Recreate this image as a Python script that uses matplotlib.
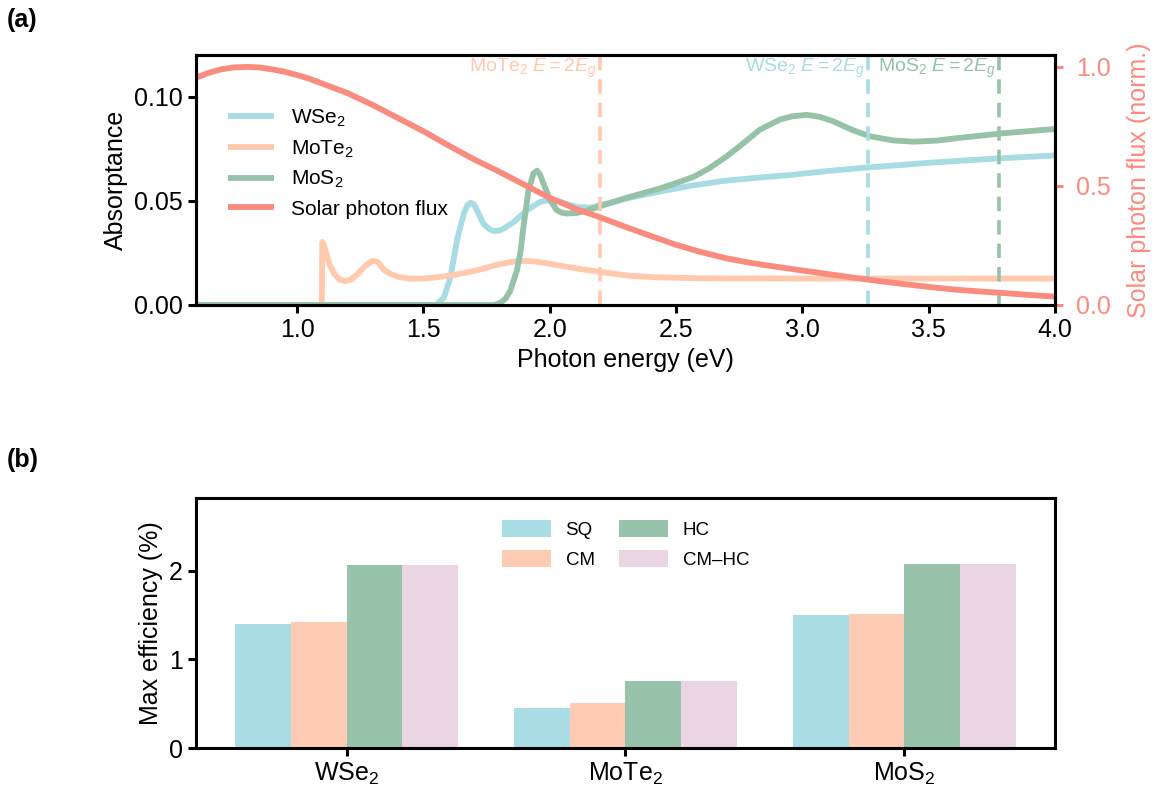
#!/usr/bin/env python3

import numpy as np
import matplotlib.pyplot as plt

plt.rcParams['font.family'] = ['Liberation Sans', 'DejaVu Sans']
plt.rcParams['mathtext.fontset'] = 'custom'
plt.rcParams['mathtext.rm'] = 'Liberation Sans'
plt.rcParams['mathtext.it'] = 'Liberation Sans:italic'

#------------------------------------------------------------------------
# (a) absorptance spectra

e_wse2 = [0.6, 1.55, 1.581, 1.607, 1.633, 1.66, 1.675, 1.688, 1.70, 1.712, 1.738, 1.76,
          1.778, 1.80, 1.817, 1.857, 1.91, 1.962, 2.002, 2.03, 2.055, 2.108, 2.16, 2.24,
          2.30, 2.437, 2.556, 2.69, 2.832, 2.95, 3.10, 3.254, 3.40, 3.505, 3.62, 3.78, 4.00]
a_wse2 = [0.0, 0.0, 0.0035, 0.0132, 0.031, 0.0439, 0.048, 0.049, 0.0483, 0.0455, 0.039, 0.0365,
          0.0355, 0.0357, 0.0366, 0.0398, 0.0455, 0.0495, 0.0505, 0.0502, 0.049, 0.047, 0.0468, 0.0490,
          0.0510, 0.0545, 0.0572, 0.0596, 0.0612, 0.0624, 0.0643, 0.0660, 0.0673, 0.0683, 0.0692, 0.0704, 0.0718]

e_mote2 = [0.6, 1.098, 1.100, 1.105, 1.115, 1.13, 1.15, 1.17, 1.19, 1.21, 1.24, 1.27,
           1.30, 1.32, 1.345, 1.37, 1.40, 1.45, 1.50, 1.528, 1.60, 1.66, 1.73, 1.79,
           1.85, 1.897, 1.94, 1.99, 2.05, 2.12, 2.24, 2.32, 2.42, 2.60, 3.00, 4.00]
a_mote2 = [0.0, 0.0, 0.0302, 0.029, 0.025, 0.019, 0.0145, 0.0122, 0.0115, 0.0120, 0.0148, 0.0188,
           0.0213, 0.0205, 0.0168, 0.0149, 0.0135, 0.0126, 0.0127, 0.0130, 0.0140, 0.0153, 0.0172, 0.0193,
           0.0207, 0.0212, 0.0209, 0.0200, 0.0187, 0.0173, 0.0152, 0.0140, 0.0133, 0.0128, 0.0127, 0.0127]

e_mos2 = [0.6, 1.78, 1.804, 1.825, 1.844, 1.87, 1.885, 1.896, 1.916, 1.936, 1.95, 1.962,
          1.975, 2.002, 2.028, 2.048, 2.068, 2.108, 2.16, 2.226, 2.30, 2.437, 2.50, 2.569,
          2.63, 2.70, 2.77, 2.832, 2.911, 2.96, 3.017, 3.07, 3.122, 3.20, 3.267, 3.36,
          3.438, 3.53, 3.62, 3.70, 3.78, 3.90, 4.00]
a_mos2 = [0.0, 0.0, 0.001, 0.003, 0.0068, 0.0165, 0.026, 0.0374, 0.055, 0.0632, 0.0645, 0.0625,
          0.0584, 0.0503, 0.0455, 0.0443, 0.0439, 0.0442, 0.0458, 0.0485, 0.0513, 0.0560, 0.0585, 0.0615,
          0.0655, 0.0713, 0.0780, 0.0842, 0.0890, 0.0906, 0.0913, 0.0903, 0.0882, 0.0839, 0.081, 0.079,
          0.0784, 0.0789, 0.0802, 0.0812, 0.0823, 0.0835, 0.0845]

e_solar = [0.6, 0.65, 0.7, 0.75, 0.8, 0.85, 0.9, 0.95, 1.0, 1.05, 1.1, 1.15, 1.2, 1.3,
           1.4, 1.5, 1.6, 1.7, 1.8, 1.9, 2.0, 2.1, 2.2, 2.3, 2.4, 2.5, 2.6, 2.7,
           2.8, 2.9, 3.0, 3.1, 3.2, 3.3, 3.4, 3.5, 3.6, 3.7, 3.8, 3.9, 4.0]
flux_solar = [0.955, 0.975, 0.99, 0.998, 1.0, 0.998, 0.99, 0.98, 0.966, 0.95, 0.93, 0.91, 0.89, 0.84,
              0.785, 0.73, 0.67, 0.612, 0.56, 0.505, 0.45, 0.405, 0.368, 0.328, 0.29, 0.253, 0.222, 0.196,
              0.176, 0.16, 0.145, 0.13, 0.115, 0.101, 0.088, 0.076, 0.065, 0.057, 0.05, 0.042, 0.035]

# 2*Eg thresholds
materials = ['WSe$_2$', 'MoTe$_2$', 'MoS$_2$']
two_eg = [3.26, 2.20, 3.78]

#------------------------------------------------------------------------
# (b) max efficiencies

bar_labels = ['SQ', 'CM', 'HC', 'CM–HC']
eff_sq = [1.40, 0.45, 1.50]
eff_cm = [1.42, 0.51, 1.51]
eff_hc = [2.06, 0.76, 2.08]
eff_cmhc = [2.06, 0.76, 2.08]

c_wse2 = '#A8DCE4'
c_mote2 = '#FFC9AE'
c_mos2 = '#96C2A8'
c_solar = '#FA8C7F'
bar_colors = ['#ABDDE6', '#FECBB4', '#98C2AA', '#EAD5E2']

#------------------------------------------------------------------------

def style_axes(ax):
    for sp in ax.spines.values():
        sp.set_linewidth(2.2)
    ax.tick_params(width=2.2, length=6, labelsize=18)


def main():
    fig = plt.figure(figsize=(11.72, 7.93), dpi=100)
    ax1 = fig.add_axes([0.1672, 0.6154, 0.7330, 0.3152])
    ax3 = fig.add_axes([0.1672, 0.0567, 0.7330, 0.3153])

    lw = 4.2
    kw = dict(lw=lw, solid_joinstyle='round', solid_capstyle='butt')
    ax1.plot(e_wse2, a_wse2, color=c_wse2, label='WSe$_2$', **kw)
    ax1.plot(e_mote2, a_mote2, color=c_mote2, label='MoTe$_2$', **kw)
    ax1.plot(e_mos2, a_mos2, color=c_mos2, label='MoS$_2$', **kw)
    ax1.set_xlim(0.6, 4.0)
    ax1.set_ylim(0, 0.12)
    ax1.set_yticks([0.0, 0.05, 0.10])
    ax1.set_xticks([1.0, 1.5, 2.0, 2.5, 3.0, 3.5, 4.0])
    ax1.set_xlabel('Photon energy (eV)', fontsize=18)
    ax1.set_ylabel('Absorptance', fontsize=18)
    style_axes(ax1)

    for name, x, c in zip(materials, two_eg, [c_wse2, c_mote2, c_mos2]):
        ax1.axvline(x, color=c, lw=2.6, ls=(0, (4, 2.5)))
        ax1.text(x - 0.012, 0.1190, name + ' $E=2E_g$', color=c, fontsize=14,
                 ha='right', va='top')

    ax2 = ax1.twinx()
    ax2.plot(e_solar, flux_solar, color=c_solar, label='Solar photon flux', **kw)
    ax2.set_ylim(0, 1.05)
    ax2.set_yticks([0.0, 0.5, 1.0])
    style_axes(ax2)
    ax2.tick_params(axis='y', colors=c_solar, pad=9)
    ax2.spines['right'].set_color('black')
    ax2.set_ylabel('Solar photon flux (norm.)', fontsize=18, color=c_solar, labelpad=12)

    h1, l1 = ax1.get_legend_handles_labels()
    h2, l2 = ax2.get_legend_handles_labels()
    ax2.legend(h1 + h2, l1 + l2, loc='upper left', bbox_to_anchor=(0.015, 0.865),
               frameon=False, fontsize=15, handlelength=2.25, labelspacing=0.45)

    # bars
    x = np.arange(len(materials))
    w = 0.2
    series = [eff_sq, eff_cm, eff_hc, eff_cmhc]
    for i, (vals, lab, col) in enumerate(zip(series, bar_labels, bar_colors)):
        ax3.bar(x + (i - 1.5) * w, vals, w, color=col, label=lab)
    ax3.set_xticks(x)
    ax3.set_xticklabels(materials)
    ax3.set_ylim(0, 2.82)
    ax3.set_yticks([0, 1, 2])
    ax3.set_ylabel('Max efficiency (%)', fontsize=18)
    style_axes(ax3)
    ax3.legend(loc='upper center', bbox_to_anchor=(0.5, 0.98), ncol=2, frameon=False,
               fontsize=13.5, handlelength=2.6, handleheight=1.0, columnspacing=1.3,
               labelspacing=0.6)

    fig.text(0.006, 0.99, '(a)', fontsize=18, fontweight='bold', va='top')
    fig.text(0.006, 0.435, '(b)', fontsize=18, fontweight='bold', va='top')

    fig.savefig('out.png', dpi=100)


if __name__ == "__main__":
    main()
